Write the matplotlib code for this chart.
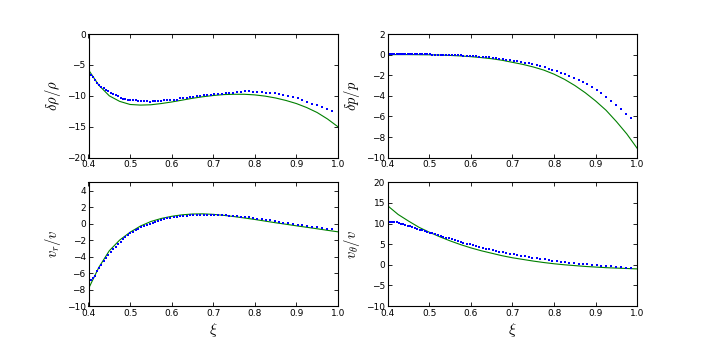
import numpy as np
import matplotlib
matplotlib.use("Agg")
import matplotlib.pyplot as plt

plt.rcParams["mathtext.fontset"] = "cm"

# simulation points (blue dots), log-spaced grid in xi
xi_pts = [0.400, 0.405, 0.410, 0.415, 0.421, 0.426, 0.431, 0.437, 0.442, 0.448,
          0.453, 0.459, 0.465, 0.471, 0.477, 0.483, 0.489, 0.495, 0.501, 0.507,
          0.514, 0.520, 0.527, 0.534, 0.540, 0.547, 0.554, 0.561, 0.568, 0.575,
          0.582, 0.590, 0.597, 0.605, 0.612, 0.620, 0.628, 0.636, 0.644, 0.652,
          0.660, 0.668, 0.677, 0.685, 0.694, 0.703, 0.712, 0.721, 0.730, 0.739,
          0.748, 0.758, 0.767, 0.777, 0.787, 0.796, 0.806, 0.817, 0.827, 0.837,
          0.848, 0.859, 0.869, 0.880, 0.891, 0.903, 0.914, 0.926, 0.937, 0.949,
          0.961, 0.973, 0.985]

rho_pts = [-6.0, -6.7, -7.0, -7.5, -7.9, -8.2, -8.5, -8.8, -9.0, -9.3,
           -9.5, -9.7, -9.9, -10.1, -10.3, -10.45, -10.55, -10.6, -10.65, -10.7,
           -10.75, -10.8, -10.85, -10.9, -10.9, -10.95, -10.9, -10.9, -10.85, -10.8,
           -10.75, -10.7, -10.7, -10.6, -10.6, -10.4, -10.3, -10.3, -10.2, -10.2,
           -10.1, -10.0, -9.9, -9.85, -9.8, -9.75, -9.7, -9.65, -9.6, -9.55,
           -9.5, -9.45, -9.35, -9.3, -9.3, -9.35, -9.4, -9.45, -9.5, -9.55,
           -9.6, -9.7, -9.8, -9.95, -10.15, -10.4, -10.65, -10.95, -11.25, -11.55,
           -11.85, -12.1, -12.4]

p_pts = [0.05, 0.05, 0.05, 0.05, 0.05, 0.05, 0.05, 0.05, 0.05, 0.05,
         0.05, 0.05, 0.04, 0.04, 0.04, 0.03, 0.03, 0.02, 0.02, 0.01,
         0.0, 0.0, -0.01, -0.02, -0.03, -0.04, -0.05, -0.06, -0.07, -0.08,
         -0.1, -0.11, -0.13, -0.15, -0.17, -0.19, -0.22, -0.25, -0.28, -0.31,
         -0.35, -0.39, -0.43, -0.48, -0.55, -0.6, -0.66, -0.72, -0.79, -0.86,
         -0.94, -1.03, -1.13, -1.24, -1.36, -1.48, -1.62, -1.77, -1.92, -2.08,
         -2.26, -2.46, -2.66, -2.9, -3.15, -3.45, -3.75, -4.1, -4.5, -4.9,
         -5.3, -5.75, -6.2]

vr_pts = [-6.9, -6.8, -6.6, -6.3, -5.8, -5.4, -5.0, -4.6, -4.2, -3.8,
          -3.45, -3.1, -2.8, -2.5, -2.2, -1.9, -1.65, -1.4, -1.2, -1.0,
          -0.8, -0.6, -0.45, -0.3, -0.15, 0.0, 0.12, 0.24, 0.35, 0.45,
          0.55, 0.63, 0.7, 0.77, 0.83, 0.88, 0.93, 0.97, 1.0, 1.03,
          1.05, 1.06, 1.07, 1.07, 1.07, 1.06, 1.04, 1.02, 0.99, 0.96,
          0.92, 0.88, 0.84, 0.8, 0.74, 0.67, 0.6, 0.53, 0.46, 0.38,
          0.29, 0.2, 0.12, 0.05, -0.04, -0.12, -0.21, -0.3, -0.38, -0.45,
          -0.52, -0.6, -0.68]

vt_pts = [10.3, 10.4, 10.4, 10.35, 10.3, 10.2, 10.0, 9.85, 9.7, 9.5,
          9.35, 9.15, 8.95, 8.75, 8.55, 8.35, 8.15, 7.95, 7.8, 7.6,
          7.4, 7.2, 7.0, 6.8, 6.6, 6.4, 6.2, 6.0, 5.8, 5.6,
          5.4, 5.15, 4.95, 4.75, 4.55, 4.35, 4.15, 3.95, 3.75, 3.55,
          3.4, 3.2, 3.0, 2.85, 2.65, 2.5, 2.35, 2.2, 2.05, 1.9,
          1.75, 1.6, 1.45, 1.3, 1.15, 1.0, 0.9, 0.75, 0.65, 0.5,
          0.4, 0.3, 0.2, 0.1, 0.0, -0.1, -0.2, -0.3, -0.4, -0.5,
          -0.6, -0.7, -0.75]

# analytic solution (green line)
xi_line = [0.400, 0.425, 0.450, 0.475, 0.500, 0.525, 0.550, 0.575, 0.600, 0.625,
           0.650, 0.675, 0.700, 0.725, 0.750, 0.775, 0.800, 0.825, 0.850, 0.875,
           0.900, 0.925, 0.950, 0.975, 1.000]

rho_line = [-5.8, -8.3, -10.0, -10.9, -11.4, -11.5, -11.45, -11.25, -11.0, -10.7,
            -10.4, -10.15, -9.95, -9.8, -9.75, -9.75, -9.85, -10.05, -10.35, -10.75,
            -11.25, -11.9, -12.7, -13.75, -15.0]

p_line = [0.0, 0.0, 0.0, -0.01, -0.02, -0.04, -0.08, -0.13, -0.2, -0.29,
          -0.4, -0.55, -0.75, -0.95, -1.2, -1.5, -1.9, -2.4, -3.0, -3.7,
          -4.5, -5.4, -6.5, -7.7, -9.1]

vr_line = [-7.9, -5.3, -3.3, -2.0, -1.05, -0.3, 0.25, 0.62, 0.88, 1.06,
           1.16, 1.18, 1.12, 1.0, 0.85, 0.68, 0.5, 0.3, 0.1, -0.08,
           -0.27, -0.45, -0.63, -0.82, -1.0]

vt_line = [14.3, 12.2, 10.6, 9.1, 7.9, 6.8, 5.8, 4.9, 4.1, 3.4,
           2.8, 2.2, 1.7, 1.3, 0.9, 0.55, 0.25, 0.0, -0.2, -0.4,
           -0.55, -0.7, -0.8, -0.9, -1.0]

panels = [
    (rho_pts, rho_line, r"$\delta\rho/\rho$", (-20, 0), 5),
    (p_pts, p_line, r"$\delta p/p$", (-10, 2), 2),
    (vr_pts, vr_line, r"$v_r/v$", (-10, 5), 2),
    (vt_pts, vt_line, r"$v_\theta/v$", (-10, 20), 5),
]

fig, axes = plt.subplots(2, 2, figsize=(7.08, 3.4), dpi=100)

for i, (ax, (pts, line, label, ylim, step)) in enumerate(zip(axes.flat, panels)):
    ax.plot(xi_line, line, '-', color=(0, 0.5, 0), lw=0.8)
    ax.plot(xi_pts, pts, 's', color='b', ms=2.0, mew=0)
    ax.set_xlim(0.4, 1.0)
    ax.set_ylim(*ylim)
    ax.set_xticks(np.arange(0.4, 1.01, 0.1))
    ax.set_yticks(np.arange(ylim[0], ylim[1] + 0.01, step))
    ax.set_ylabel(label, fontsize=10.5, labelpad=3)
    if i >= 2:
        ax.set_xlabel(r"$\xi$", fontsize=11, labelpad=2)
    ax.tick_params(direction='in', length=3, width=0.6, labelsize=6.5,
                   pad=2, top=True, right=True)
    for s in ax.spines.values():
        s.set_linewidth(0.8)

fig.subplots_adjust(left=0.125, right=0.9, bottom=0.1, top=0.9,
                    wspace=0.2, hspace=0.2)
fig.savefig("out.png", dpi=100)
